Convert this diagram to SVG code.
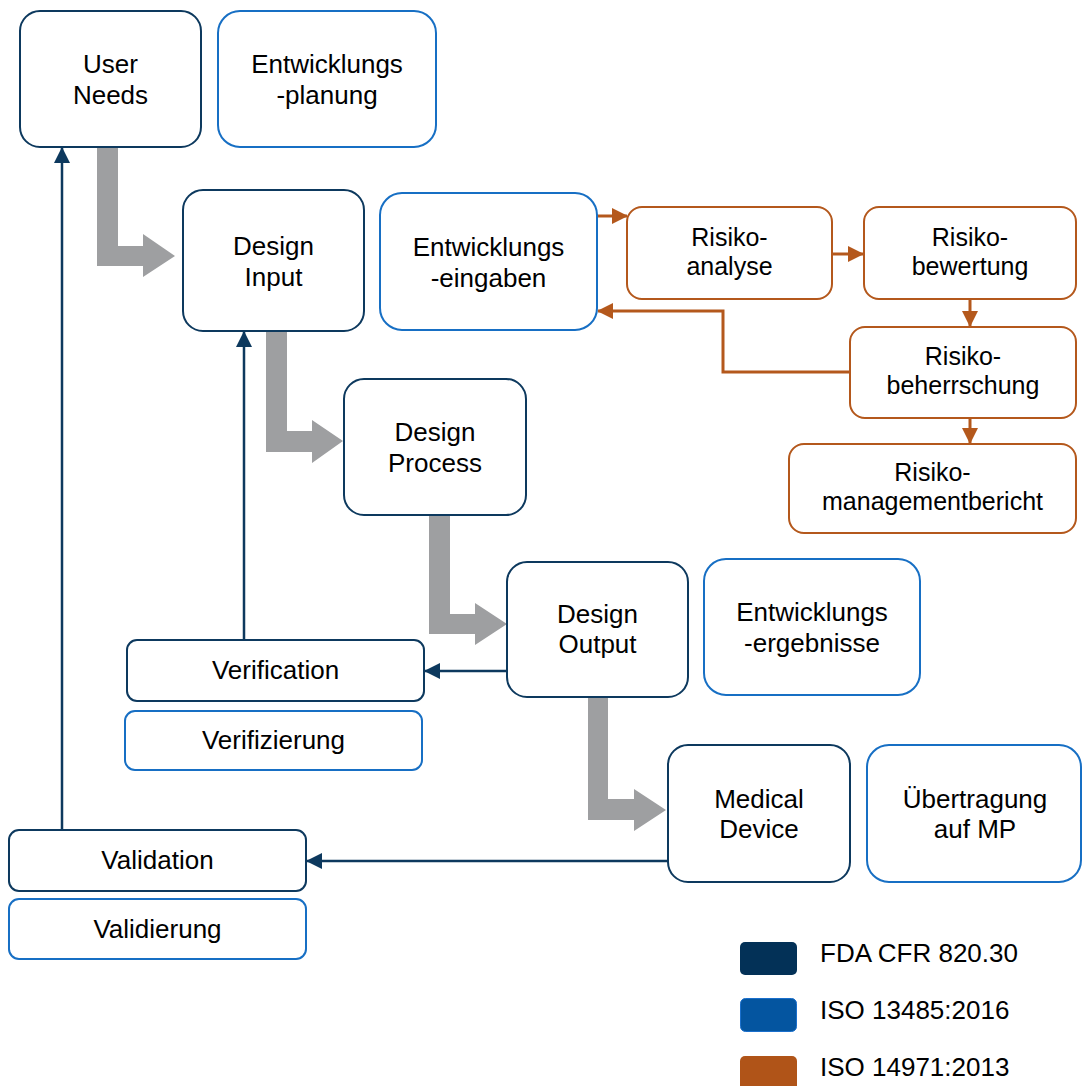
<svg xmlns="http://www.w3.org/2000/svg" width="1083" height="1086" viewBox="0 0 1083 1086">
  <defs>
    <style>
      text { font-family: "Liberation Sans", Arial, sans-serif; font-size: 26px; fill: #000; text-anchor: middle; }
      .risk-label { font-size: 25px; }
      .fda { fill: #fff; stroke: #0d395e; stroke-width: 2; }
      .iso { fill: #fff; stroke: #176fc4; stroke-width: 2; }
      .risk { fill: #fff; stroke: #b4581c; stroke-width: 2; }
      .flow { fill: #9e9fa1; }
      .navy { fill: none; stroke: #0d395e; stroke-width: 2.5; }
      .orange { fill: none; stroke: #b4581c; stroke-width: 3; }
      .legend text { text-anchor: start; }
    </style>
    <marker id="headNavy" markerUnits="userSpaceOnUse" markerWidth="16" markerHeight="16" viewBox="0 0 16 16" refX="15" refY="8" orient="auto">
      <path d="M0,0 L16,8 L0,16 Z" fill="#0d395e"/>
    </marker>
    <marker id="headOrange" markerUnits="userSpaceOnUse" markerWidth="16" markerHeight="16" viewBox="0 0 16 16" refX="15" refY="8" orient="auto">
      <path d="M0,0 L16,8 L0,16 Z" fill="#b4581c"/>
    </marker>
  </defs>
  <rect width="1083" height="1086" fill="#fff"/>

  <!-- Connectors -->
  <g id="connectors">
    <!-- thick grey process flow -->
    <polygon class="flow" points="97,147 118,147 118,246 143,246 143,234 175,256 143,277 143,266 97,266"/>
    <polygon class="flow" points="266,331 287,331 287,431 312,431 312,420 343,441 312,463 312,452 266,452"/>
    <polygon class="flow" points="429,515 450,515 450,614 475,614 475,603 507,624 475,645 475,634 429,634"/>
    <polygon class="flow" points="588,697 608,697 608,799 634,799 634,789 666,810 634,831 634,820 588,820"/>
    <!-- verification / validation feedback -->
    <path class="navy" d="M244,640 V332" marker-end="url(#headNavy)"/>
    <path class="navy" d="M62,830 V148" marker-end="url(#headNavy)"/>
    <path class="navy" d="M507,671 H425" marker-end="url(#headNavy)"/>
    <path class="navy" d="M668,861 H307" marker-end="url(#headNavy)"/>
    <!-- risk management loop -->
    <path class="orange" d="M597,216 H627" marker-end="url(#headOrange)"/>
    <path class="orange" d="M832,254 H863" marker-end="url(#headOrange)"/>
    <path class="orange" d="M970,299 V326" marker-end="url(#headOrange)"/>
    <path class="orange" d="M970,419 V443" marker-end="url(#headOrange)"/>
    <path class="orange" d="M850,372 H723 V311 H598" marker-end="url(#headOrange)"/>
  </g>

  <!-- FDA nodes -->
  <g id="user-needs">
    <rect class="fda" x="20" y="11" width="181" height="136" rx="20"/>
    <text x="110.5" y="73">User</text>
    <text x="110.5" y="104">Needs</text>
  </g>
  <g id="design-input">
    <rect class="fda" x="183" y="190" width="181" height="141" rx="20"/>
    <text x="273.5" y="255">Design</text>
    <text x="273.5" y="286">Input</text>
  </g>
  <g id="design-process">
    <rect class="fda" x="344" y="379" width="182" height="136" rx="20"/>
    <text x="435" y="441">Design</text>
    <text x="435" y="472">Process</text>
  </g>
  <g id="design-output">
    <rect class="fda" x="507" y="562" width="181" height="135" rx="20"/>
    <text x="597.5" y="623">Design</text>
    <text x="597.5" y="653">Output</text>
  </g>
  <g id="medical-device">
    <rect class="fda" x="668" y="745" width="182" height="137" rx="20"/>
    <text x="759" y="808">Medical</text>
    <text x="759" y="838">Device</text>
  </g>
  <g id="verification">
    <rect class="fda" x="127" y="640" width="297" height="61" rx="10"/>
    <text x="275.5" y="679">Verification</text>
  </g>
  <g id="validation">
    <rect class="fda" x="9" y="830" width="297" height="61" rx="10"/>
    <text x="157.5" y="869">Validation</text>
  </g>

  <!-- ISO 13485 nodes -->
  <g id="entwicklungsplanung">
    <rect class="iso" x="218" y="11" width="218" height="136" rx="22"/>
    <text x="327" y="73">Entwicklungs</text>
    <text x="327" y="104">-planung</text>
  </g>
  <g id="entwicklungseingaben">
    <rect class="iso" x="380" y="193" width="217" height="137" rx="22"/>
    <text x="488.5" y="256">Entwicklungs</text>
    <text x="488.5" y="287">-eingaben</text>
  </g>
  <g id="entwicklungsergebnisse">
    <rect class="iso" x="704" y="559" width="216" height="136" rx="22"/>
    <text x="812" y="621">Entwicklungs</text>
    <text x="812" y="652">-ergebnisse</text>
  </g>
  <g id="uebertragung">
    <rect class="iso" x="867" y="745" width="214" height="137" rx="22"/>
    <text x="975" y="808">Übertragung</text>
    <text x="975" y="838">auf MP</text>
  </g>
  <g id="verifizierung">
    <rect class="iso" x="125" y="711" width="297" height="59" rx="10"/>
    <text x="273.5" y="749">Verifizierung</text>
  </g>
  <g id="validierung">
    <rect class="iso" x="9" y="899" width="297" height="60" rx="10"/>
    <text x="157.5" y="938">Validierung</text>
  </g>

  <!-- ISO 14971 nodes -->
  <g id="risikoanalyse">
    <rect class="risk" x="627" y="207" width="205" height="92" rx="15"/>
    <text class="risk-label" x="729.5" y="246">Risiko-</text>
    <text class="risk-label" x="729.5" y="275">analyse</text>
  </g>
  <g id="risikobewertung">
    <rect class="risk" x="864" y="207" width="212" height="92" rx="15"/>
    <text class="risk-label" x="970" y="246">Risiko-</text>
    <text class="risk-label" x="970" y="275">bewertung</text>
  </g>
  <g id="risikobeherrschung">
    <rect class="risk" x="850" y="327" width="226" height="91" rx="15"/>
    <text class="risk-label" x="963" y="365">Risiko-</text>
    <text class="risk-label" x="963" y="394">beherrschung</text>
  </g>
  <g id="risikomanagementbericht">
    <rect class="risk" x="789" y="444" width="287" height="89" rx="15"/>
    <text class="risk-label" x="932.5" y="481">Risiko-</text>
    <text class="risk-label" x="932.5" y="510">managementbericht</text>
  </g>

  <!-- Legend -->
  <g id="legend" class="legend">
    <rect x="740" y="942" width="57" height="33" rx="5" fill="#033157"/>
    <text x="820" y="962">FDA CFR 820.30</text>
    <rect x="740.5" y="998.5" width="56" height="33" rx="5" fill="#0455a0" stroke="#1a6fcc" stroke-width="1"/>
    <text x="820" y="1019">ISO 13485:2016</text>
    <rect x="740" y="1056" width="57" height="40" rx="5" fill="#b05418"/>
    <text x="820" y="1076">ISO 14971:2013</text>
  </g>
</svg>
